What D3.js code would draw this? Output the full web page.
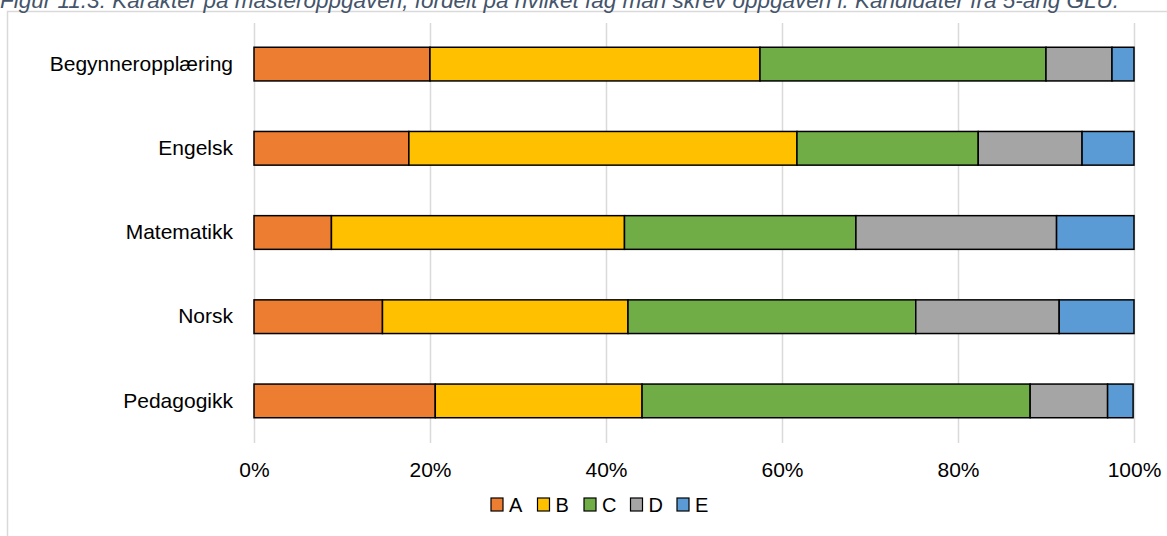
<!DOCTYPE html>
<html>
<head>
<meta charset="utf-8">
<script src="https://cdn.jsdelivr.net/npm/d3@7"></script>
<style>
    body { margin: 0; background: #fff; }
    svg { display: block; font-family: "Liberation Sans", Arial, sans-serif; }
    .grid line { stroke: #d9d9d9; stroke-width: 1.5; }
    .grid .domain { display: none; }
    .tick-label text { font-size: 21px; fill: #000; }
    .tick-label .domain, .tick-label line { display: none; }
    .cat text { font-size: 21px; fill: #000; }
    .cat .domain, .cat line { display: none; }
</style>
</head>
<body>
<div id="chart"></div>
<script>
var categories = ["Begynneropplæring", "Engelsk", "Matematikk", "Norsk", "Pedagogikk"];
var grades = ["A", "B", "C", "D", "E"];
var gradeA = [20.0, 17.6, 8.8, 14.6, 20.6];
var gradeB = [37.5, 44.1, 33.3, 27.9, 23.5];
var gradeC = [32.5, 20.6, 26.3, 32.7, 44.1];
var gradeD = [7.5, 11.8, 22.8, 16.3, 8.8];
var gradeE = [2.5, 5.9, 8.8, 8.5, 2.9];
var ticks = [0, 20, 40, 60, 80, 100];
var colours = ["#ED7D31", "#FFC000", "#70AD47", "#A5A5A5", "#5B9BD5"];
var title = "Figur 11.3: Karakter på masteroppgaven, fordelt på hvilket fag man skrev oppgaven i. Kandidater fra 5-årig GLU.";

var width = 1167,
    height = 536;

var svg = d3.select("#chart")
    .append("svg")
    .attr("width", width)
    .attr("height", height);

// chart area frame
svg.append("rect")
    .attr("x", 7.5)
    .attr("y", 11.5)
    .attr("width", width + 10)
    .attr("height", height + 10)
    .attr("fill", "none")
    .attr("stroke", "#d9d9d9")
    .attr("stroke-width", 1.5);

// caption sits above the frame, partly cropped like the source
svg.append("text")
    .attr("x", 0)
    .attr("y", 8)
    .attr("font-style", "italic")
    .attr("font-size", "22.5px")
    .attr("fill", "#44546A")
    .text(title);

var rows = categories.map(function (c, i) {
    return {name: c, A: gradeA[i], B: gradeB[i], C: gradeC[i], D: gradeD[i], E: gradeE[i]};
});

var x = d3.scaleLinear()
    .domain([0, 100])
    .range([254, 1134]);

var y = d3.scaleBand()
    .domain(categories)
    .range([22, 443])
    .paddingInner(0.6)
    .paddingOuter(0.3);

var colour = d3.scaleOrdinal()
    .domain(grades)
    .range(colours);

svg.append("g")
    .attr("class", "grid")
    .attr("transform", "translate(0,443)")
    .call(d3.axisBottom(x).tickValues(ticks).tickSize(-420).tickFormat(""));

var stacked = d3.stack().keys(grades)(rows);

svg.append("g")
    .selectAll("g")
    .data(stacked)
    .enter().append("g")
    .attr("fill", function (d) {
        return colour(d.key);
    })
    .selectAll("rect")
    .data(function (d) {
        return d;
    })
    .enter().append("rect")
    .attr("x", function (d) {
        return x(d[0]);
    })
    .attr("y", function (d) {
        return y(d.data.name);
    })
    .attr("width", function (d) {
        return x(d[1]) - x(d[0]);
    })
    .attr("height", y.bandwidth())
    .attr("stroke", "#000")
    .attr("stroke-width", 1.5);

svg.append("g")
    .attr("class", "cat")
    .attr("transform", "translate(241,0)")
    .call(d3.axisLeft(y).tickSize(0).tickPadding(8));

svg.append("g")
    .attr("class", "tick-label")
    .attr("transform", "translate(0,462)")
    .call(d3.axisBottom(x).tickValues(ticks).tickSize(0).tickPadding(0)
        .tickFormat(function (d) {
            return d + "%";
        }));

// legend
var legend = svg.append("g")
    .attr("transform", "translate(491,498)");

var item = legend.selectAll("g")
    .data(grades)
    .enter().append("g")
    .attr("transform", function (d, i) {
        return "translate(" + (i * 46.5) + ",0)";
    });

item.append("rect")
    .attr("width", 12)
    .attr("height", 13)
    .attr("fill", function (d) {
        return colour(d);
    })
    .attr("stroke", "#000")
    .attr("stroke-width", 1.2);

item.append("text")
    .attr("x", 18)
    .attr("y", 14)
    .attr("font-size", "20px")
    .text(function (d) {
        return d;
    });
</script>
</body>
</html>
